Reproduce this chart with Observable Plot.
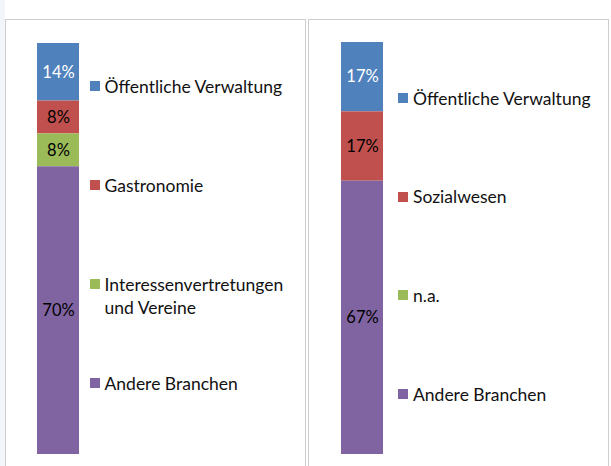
<!DOCTYPE html>
<html><head><meta charset="utf-8">
<script src="https://cdn.jsdelivr.net/npm/d3@7"></script>
<script src="https://cdn.jsdelivr.net/npm/@observablehq/plot@0.6"></script>
<style>
html,body{margin:0;padding:0;background:#fff;width:611px;height:466px;overflow:hidden;font-family:Lato,"Liberation Sans",sans-serif;}
#strip{position:absolute;left:0;top:0;width:5px;height:466px;background:#f2f6fb;}
.panel{position:absolute;top:19px;width:301px;height:460px;border:1.5px solid #cdcdcd;background:#fff;box-sizing:border-box;overflow:hidden;}
.panel svg{position:absolute;left:0;top:0;}
.leg{position:absolute;font-size:17.5px;color:#111;line-height:23px;white-space:nowrap;}
.sw{position:absolute;width:10px;height:10px;}
</style></head>
<body>
<div id="strip"></div>
<div class="panel" id="p1" style="left:5px"></div>
<div class="panel" id="p2" style="left:308px"></div>
<script>
// Left chart
const cats1 = ["Öffentliche Verwaltung", "Gastronomie", "Interessenvertretungen\nund Vereine", "Andere Branchen"];
const vals1 = [14, 8, 8, 70];
// Right chart
const cats2 = ["Öffentliche Verwaltung", "Sozialwesen", "n.a.", "Andere Branchen"];
const vals2 = [17, 17, 0, 67];
const colors = ["#4f81bd", "#c0504d", "#9bbb59", "#8064a2"];
const labelColors = ["#ffffff", "#000000", "#000000", "#000000"];

function panel(el, cats, vals, opt) {
  const data = cats.map((c, i) => ({cat: c, v: vals[i], i, bar: "x"}));
  const order = cats.slice().reverse();
  const chart = Plot.plot({
    width: 298, height: 445,
    margin: 0,
    x: {domain: ["x"], range: opt.xr, padding: 0, axis: null},
    y: {domain: [0, 1], range: opt.yr, axis: null},
    color: {domain: cats, range: colors},
    style: {fontFamily: "Lato, sans-serif", background: "transparent"},
    marks: [
      Plot.barY(data, Plot.stackY({x: "bar", y: "v", fill: "cat", z: "cat", order, offset: "normalize"})),
      Plot.text(data, Plot.stackY({x: "bar", y: "v", z: "cat", order, offset: "normalize",
        text: d => d.v > 0 ? d.v + "%" : null,
        fill: d => labelColors[d.i], fontSize: 16.5}))
    ]
  });
  el.appendChild(chart);
  cats.forEach((c, i) => {
    const top = opt.legTop + i * opt.legStep;
    const sw = document.createElement("div");
    sw.className = "sw";
    sw.style.left = opt.swX + "px";
    sw.style.top = (top - 5) + "px";
    sw.style.background = colors[i];
    el.appendChild(sw);
    const t = document.createElement("div");
    t.className = "leg";
    t.style.left = opt.txX + "px";
    t.style.top = (top - 11.5) + "px";
    t.innerHTML = c.split("\n").join("<br>");
    el.appendChild(t);
  });
}
panel(document.getElementById("p1"), cats1, vals1, {xr: [30.5, 72.5], yr: [434, 23], swX: 83.5, txX: 98.5, legTop: 66, legStep: 99});
panel(document.getElementById("p2"), cats2, vals2, {xr: [31.5, 73.5], yr: [434, 22], swX: 88.5, txX: 104, legTop: 78, legStep: 98.7});
</script>
</body></html>
